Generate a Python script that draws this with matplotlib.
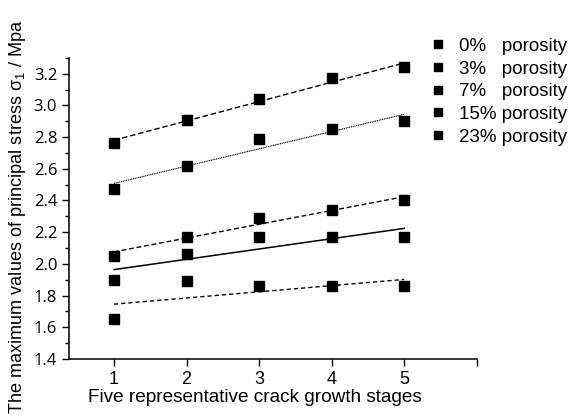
import numpy as np
import matplotlib
matplotlib.use("Agg")
import matplotlib.pyplot as plt
from matplotlib.lines import Line2D
from matplotlib.ticker import MultipleLocator

plt.rcParams["font.family"] = ["Liberation Sans", "DejaVu Sans"]
plt.rcParams["mathtext.fontset"] = "custom"
plt.rcParams["mathtext.rm"] = "Liberation Sans"
plt.rcParams["mathtext.it"] = "Liberation Sans"

stages = [1, 2, 3, 4, 5]
labels = ["0%   porosity", "3%   porosity", "7%   porosity", "15% porosity", "23% porosity"]
stress_0 = [2.76, 2.91, 3.04, 3.17, 3.24]
stress_3 = [2.47, 2.62, 2.79, 2.85, 2.90]
stress_7 = [2.05, 2.17, 2.29, 2.34, 2.40]
stress_15 = [1.90, 2.06, 2.17, 2.17, 2.17]
stress_23 = [1.65, 1.89, 1.86, 1.86, 1.86]

series = [stress_0, stress_3, stress_7, stress_15, stress_23]
# fit line styles, roughly like the Origin defaults in the original
styles = [(0, (4, 2)), (0, (1, 0.6)), (0, (3.5, 2)), "-", (0, (3, 2.2))]
widths = [1.0, 0.8, 1.0, 1.1, 1.0]

fig = plt.figure(figsize=(5.72, 4.16), dpi=100)
ax = fig.add_axes([0.1206, 0.137, 0.713, 0.724])

x = np.array(stages, dtype=float)
for ys, ls, lw in zip(series, styles, widths):
    ys = np.array(ys)
    k, b = np.polyfit(x, ys, 1)
    ax.plot(x, k * x + b, color="black", linestyle=ls, linewidth=lw, zorder=2)
    ax.plot(x, ys, linestyle="none", marker="s", markersize=7, color="black", zorder=3)

ax.set_xlim(0.38, 6.0)
ax.set_ylim(1.4, 3.3)
ax.set_xticks([1, 2, 3, 4, 5, 6], labels=["1", "2", "3", "4", "5", ""])
ax.yaxis.set_major_locator(MultipleLocator(0.2))
ax.yaxis.set_minor_locator(MultipleLocator(0.1))
ax.tick_params(axis="both", direction="out", length=5, width=1)
ax.tick_params(axis="x", labelsize=13)
ax.tick_params(axis="y", labelsize=12, labelfontfamily="Open Sans")
ax.tick_params(axis="y", which="minor", direction="out", length=3, width=1)
ax.spines["top"].set_visible(False)
ax.spines["right"].set_visible(False)
for s in ["left", "bottom"]:
    ax.spines[s].set_linewidth(1.1)

ax.set_xlabel("Five representative crack growth stages", fontsize=13.7)
ax.xaxis.set_label_coords(0.456, -0.1)
fig.text(0.031, 0.48, "The maximum values of principal stress σ$_{1}$ / Mpa",
         rotation=90, ha="center", va="center", fontsize=13.1)

handles = [Line2D([0], [0], linestyle="none", marker="s", markersize=6, color="black")
           for _ in labels]
fig.legend(handles, labels, loc="upper left", bbox_to_anchor=(0.72, 0.95),
           frameon=False, fontsize=13.5, handletextpad=0.6, labelspacing=0.3,
           handlelength=1.0)

fig.savefig("out.png", dpi=100)
